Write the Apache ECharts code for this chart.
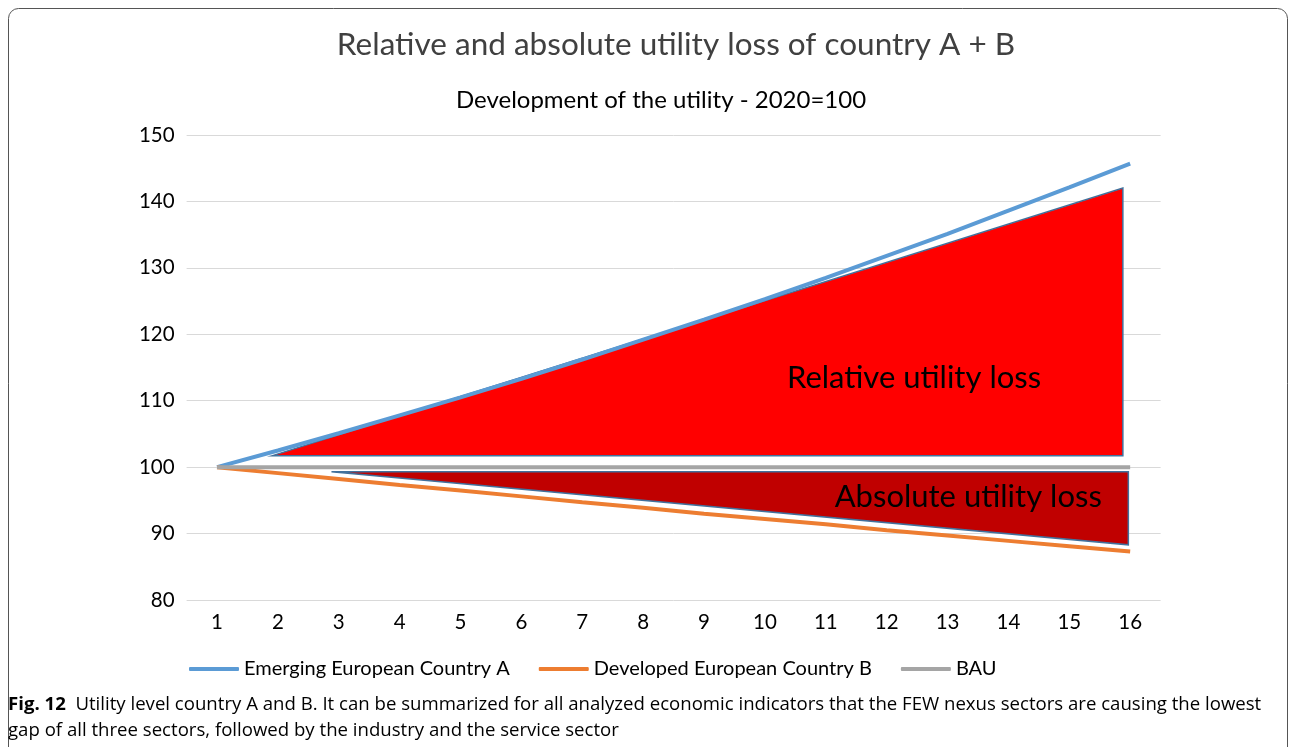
<!DOCTYPE html>
<html><head><meta charset="utf-8">
<script src="https://cdn.jsdelivr.net/npm/echarts@6/dist/echarts.min.js"></script>
<style>html,body{margin:0;padding:0;background:#fff}#c{width:1290px;height:747px}</style>
</head><body><div id="c"></div>
<script>
const categories = ['1','2','3','4','5','6','7','8','9','10','11','12','13','14','15','16'];
const countryA = [100,102.5,105.1,107.8,110.5,113.3,116.2,119.2,122.2,125.3,128.5,131.8,135.1,138.6,142.1,145.7];
const countryB = [100,99.1,98.2,97.3,96.5,95.6,94.7,93.9,93.0,92.2,91.4,90.5,89.7,88.9,88.1,87.3];
const bau = [100,100,100,100,100,100,100,100,100,100,100,100,100,100,100,100];
const relativeLossPoly = [[1.9,101.7],[15.88,142.0],[15.88,101.7]];
const absoluteLossPoly = [[2.88,99.3],[15.97,99.3],[15.97,88.3]];
const relativeLabel = {text:'Relative utility loss', pos:[12.45,113.4]};
const absoluteLabel = {text:'Absolute utility loss', pos:[13.34,95.5]};
const yTicks = {min:80, max:150, interval:10};

const FONT = 'Lato';
const chart = echarts.init(document.getElementById('c'));

function polySeries(name, pts, color){
  return {
    type:'custom', name, xAxisIndex:1, yAxisIndex:0, silent:true, z:1,
    data:[0],
    renderItem:(params, api)=>({
      type:'polygon',
      shape:{points: pts.map(p=>api.coord(p))},
      style:{fill:color, stroke:'#41719C', lineWidth:1.5}
    })
  };
}
function labelSeries(lbl){
  return {
    type:'custom', xAxisIndex:1, yAxisIndex:0, silent:true, z:5,
    data:[0],
    renderItem:(params, api)=>{
      const p = api.coord(lbl.pos);
      return {type:'text', x:p[0], y:p[1], style:{text:lbl.text, fill:'#000', font:'31px '+FONT, align:'center', verticalAlign:'middle'}};
    }
  };
}

chart.setOption({
  animation:false,
  textStyle:{fontFamily:FONT},
  title:[
    {text:'Relative and absolute utility loss of country A + B', left:671, textAlign:'center', top:24, textStyle:{fontSize:31.5, fontWeight:'normal', color:'#404040', fontFamily:FONT}},
    {text:'Development of the utility - 2020=100', left:656, textAlign:'center', top:83, textStyle:{fontSize:24, fontWeight:'normal', color:'#000', fontFamily:FONT}}
  ],
  grid:{left:186.6, right:129.4, top:135, bottom:147},
  legend:{
    left:184, top:654, itemGap:29, itemWidth:50, itemHeight:4, icon:'roundRect',
    data:['Emerging European Country A','Developed European Country B','BAU'],
    textStyle:{fontSize:20, color:'#000', fontFamily:FONT}
  },
  xAxis:[
    {type:'category', data:categories, boundaryGap:true,
     axisLine:{show:false}, axisTick:{show:false},
     axisLabel:{fontSize:20.5, color:'#000', margin:12}},
    {type:'value', min:0.5, max:16.5, show:false}
  ],
  yAxis:{type:'value', min:yTicks.min, max:yTicks.max, interval:yTicks.interval,
    axisLine:{show:false}, axisTick:{show:false},
    axisLabel:{fontSize:20.5, color:'#000', margin:12},
    splitLine:{lineStyle:{color:'#D9D9D9', width:1}}},
  series:[
    polySeries('rel', relativeLossPoly, '#FF0000'),
    polySeries('abs', absoluteLossPoly, '#C00000'),
    {type:'line', name:'Emerging European Country A', data:countryA, symbol:'none', z:3, lineStyle:{color:'#5B9BD5', width:4}, itemStyle:{color:'#5B9BD5'}},
    {type:'line', name:'Developed European Country B', data:countryB, symbol:'none', z:3, lineStyle:{color:'#ED7D31', width:4}, itemStyle:{color:'#ED7D31'}},
    {type:'line', name:'BAU', data:bau, symbol:'none', z:3, lineStyle:{color:'#A5A5A5', width:4}, itemStyle:{color:'#A5A5A5'}},
    labelSeries(relativeLabel),
    labelSeries(absoluteLabel)
  ],
  graphic:[
    {type:'rect', shape:{x:8.5, y:8.5, width:1279, height:750, r:10}, style:{fill:'none', stroke:'#555', lineWidth:1}, silent:true},
    {type:'text', left:8, top:695, style:{rich:{b:{font:'bold 18.6px "Open Sans"', fill:'#000'}, n:{font:'18.6px "Open Sans"', fill:'#000'}}, text:'{b|Fig. 12}{n|  Utility level country A and B. It can be summarized for all analyzed economic indicators that the FEW nexus sectors are causing the lowest}'}},
    {type:'text', left:8, top:721, style:{font:'18.6px "Open Sans"', fill:'#000', text:'gap of all three sectors, followed by the industry and the service sector'}}
  ]
});
</script></body></html>
